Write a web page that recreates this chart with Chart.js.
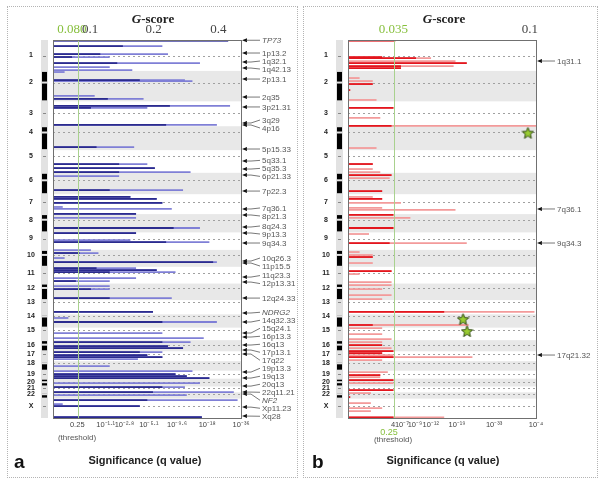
<!DOCTYPE html>
<html>
<head>
<meta charset="utf-8">
<script src="https://cdn.jsdelivr.net/npm/chart.js@4.4.1/dist/chart.umd.min.js"></script>
<style>
body { margin: 0; width: 604px; height: 488px; background: #fff; position: relative; overflow: hidden; font-family: "Liberation Sans", Arial, sans-serif; }
.panel { position: absolute; top: 6px; height: 472px; border: 1px dotted #b4b4b4; box-sizing: border-box; }
canvas { position: absolute; top: 0; }
.txt { position: absolute; white-space: nowrap; line-height: 1; transform: translateX(-50%); }
.gtitle { font: bold 13px "Liberation Serif", "DejaVu Serif", serif; color: #222; top: 11px; }
.sig { font: bold 11px "Liberation Sans", Arial, sans-serif; color: #222; top: 454px; }
.tag { font: bold 19px "Liberation Sans", Arial, sans-serif; color: #111; top: 451px; transform: none; }
.thr { font: 8px "Liberation Sans", Arial, sans-serif; color: #555; }
</style>
</head>
<body>
<div class="panel" style="left:7px;width:291px"></div>
<div class="panel" style="left:303px;width:295px"></div>
<canvas id="leftChart" width="300" height="488" style="left:0"></canvas>
<canvas id="rightChart" width="304" height="488" style="left:300px"></canvas>

<div class="txt gtitle" style="left:153px"><i>G</i>-score</div>
<div class="txt gtitle" style="left:444px"><i>G</i>-score</div>
<div class="txt sig" style="left:145px">Significance (q value)</div>
<div class="txt sig" style="left:443px">Significance (q value)</div>
<div class="txt tag" style="left:14px">a</div>
<div class="txt tag" style="left:312px">b</div>
<div class="txt thr" style="left:77px;top:433px">(threshold)</div>
<div class="txt thr" style="left:389px;top:427px;color:#86bf3c;font-size:9px">0.25</div>
<div class="txt thr" style="left:393px;top:435px">(threshold)</div>

<script>
// genome layout (Mb)
const chromosomes = ['1','2','3','4','5','6','7','8','9','10','11','12','13','14','15','16','17','18','19','20','21','22','X'];
const chromSizes = [247,243,199,191,181,171,159,146,140,135,134,132,114,106,100,89,79,76,64,62,47,50,155];
const centromeres = [124,93,91,50,48,60,59,45,49,40,53,35,17,17,19,36,24,17,26,28,13,15,60];

// panel a: position (cumulative Mb), bar length and dark core length (fraction of axis)
const leftPos = [4,48,112,136,184,216,240,256,320,328,
  447,471,527,543,679,855,991,1023,1055,1087,
  1199,1254,1270,1302,1334,1350,1390,1422,1502,1542,
  1598,1614,1678,1702,1742,1774,1822,1838,1854,1902,
  1926,1966,1990,2062,2173,2221,2253,2341,2381,2413,
  2445,2461,2493,2517,2533,2549,2605,2645,2669,2685,
  2701,2741,2773,2813,2837,2877,2909,2925,3013];
const leftLen = [0.93,0.58,0.61,0.30,0.78,0.30,0.42,0.06,0.70,0.74,
  0.22,0.48,0.94,0.50,0.87,0.43,0.50,0.54,0.73,0.35,
  0.69,0.41,0.55,0.58,0.05,0.63,0.44,0.44,0.78,0.44,
  0.41,0.83,0.20,0.24,0.06,0.87,0.44,0.55,0.65,0.44,
  0.30,0.30,0.30,0.63,0.53,0.08,0.87,0.58,0.80,0.73,
  0.61,0.69,0.58,0.50,0.58,0.45,0.30,0.74,0.65,0.71,
  0.83,0.78,0.70,0.96,0.71,0.98,0.05,0.46,0.79];
const leftCore = [0.93,0.37,0.25,0.10,0.34,0,0,0,0.46,0,
  0,0.29,0.62,0.20,0.60,0.23,0.35,0.54,0.35,0,
  0.30,0.41,0.55,0.58,0,0,0.44,0,0.64,0.44,
  0,0.60,0,0.14,0,0.85,0.23,0.55,0.30,0,
  0.12,0,0.20,0.30,0.53,0,0.58,0,0,0.58,
  0.61,0.69,0.46,0.50,0.58,0,0,0,0.65,0.71,
  0.83,0,0.58,0.53,0,0.50,0,0.46,0.79];

// panel b
const rightPos = [4,136,144,168,184,208,224,304,328,352,
  400,479,543,623,687,863,991,1031,1055,1079,
  1103,1207,1254,1270,1302,1342,1358,1398,1422,1502,
  1550,1622,1694,1718,1734,1782,1846,1870,1934,1958,
  1990,2038,2070,2173,2277,2301,2349,2389,2413,2437,
  2461,2485,2501,2517,2533,2557,2653,2677,2693,2717,
  2741,2797,2821,2853,2901,2941,2965,3016];
const rightLen = [0.25,0.18,0.44,0.57,0.63,0.56,0.28,0.06,0.13,0.13,
  0.01,0.15,0.24,0.17,1.0,0.15,0.13,0.13,0.17,0.23,
  0.22,0.18,0.13,0.18,0.28,0.18,0.57,0.24,0.33,0.24,
  0.11,0.63,0.06,0.13,0.13,0.13,0.23,0.06,0.23,0.23,
  0.18,0.23,0.18,0.99,0.64,0.18,0.18,0.23,0.18,0.18,
  0.23,0.24,0.18,0.24,0.66,0.18,0.21,0.17,0.17,0.24,
  0.24,0.24,0.12,0.01,0.12,0.18,0.12,0.51];
const rightCore = [0.25,0.18,0.36,0,0.63,0.28,0.28,0,0,0.13,
  0.01,0,0.24,0,0.23,0,0.13,0,0,0.23,
  0,0.18,0,0.18,0,0,0,0.24,0,0.24,
  0,0.22,0,0,0.13,0,0.23,0,0,0,
  0,0,0,0.51,0.13,0,0,0,0,0.18,
  0,0.24,0.18,0,0.24,0,0,0.17,0,0.24,
  0,0.24,0,0.01,0,0,0,0.24];
const starPos = [744,2232,2328];
const starLen = [0.957,0.612,0.633];

// peak labels
const leftPeaks = ['TP73','1p13.2','1q32.1','1q42.13','2p13.1','2q35','3p21.31','3q29','4p16','5p15.33',
  '5q33.1','5q35.3','6p21.33','7p22.3','7q36.1','8p21.3','8q24.3','9p13.3','9q34.3','10q26.3',
  '11p15.5','11q23.3','12p13.31','12q24.33','NDRG2','14q32.33','15q24.1','16p13.3','16q13','17p13.1',
  '17q22','19p13.3','19q13','20q13','22q11.21','NF2','Xp11.23','Xq28'];
const leftPeakPos = [2,104,176,224,312,456,535,663,679,871,
  967,1031,1079,1207,1350,1398,1494,1542,1622,1766,
  1782,1894,1934,2062,2181,2253,2341,2373,2437,2477,
  2509,2653,2701,2765,2813,2829,2933,3005];
const rightPeaks = ['1q31.1','7q36.1','9q34.3','17q21.32'];
const rightPeakPos = [168,1350,1622,2517];

// axis labels
const gLabelsLeft = ['0.080','0.1','0.2','0.4'];
const gAtLeft = [0.10,0.197,0.535,0.88];
const qLabelsLeft = ['0.25','10⁻¹·¹','10⁻²·⁸','10⁻⁵·¹','10⁻⁹·⁶','10⁻¹⁸','10⁻³⁶'];
const qAtLeft = [0.129,0.28,0.38,0.51,0.66,0.82,1.0];
const gLabelsRight = ['0.035','0.1'];
const gAtRight = [0.241,0.968];
const qLabelsRight = ['4','10⁻⁷','10⁻⁹','10⁻¹²','10⁻¹⁹','10⁻³³','10⁻⁴'];
const qAtRight = [0.24,0.287,0.356,0.44,0.58,0.777,1.0];

const genomeTotal = chromSizes.reduce((a, b) => a + b, 0);

function makeStar() {
    const c = document.createElement('canvas');
    c.width = 13; c.height = 13;
    const g = c.getContext('2d');
    g.beginPath();
    for (let i = 0; i < 10; i++) {
        const r = i % 2 === 0 ? 6 : 2.6;
        const a = -Math.PI / 2 + i * Math.PI / 5;
        g.lineTo(6.5 + r * Math.cos(a), 6.8 + r * Math.sin(a));
    }
    g.closePath();
    g.fillStyle = '#9acd32';
    g.fill();
    g.strokeStyle = '#2f4a12';
    g.lineWidth = 1;
    g.stroke();
    return c;
}

function genomePlugin(peaks, peakPos, threshold) {
    return {
        id: 'genome',
        beforeDatasetsDraw(chart) {
            const { ctx, chartArea: a, scales: { y } } = chart;
            ctx.save();
            let start = 0;
            chromSizes.forEach((len, i) => {
                const y0 = y.getPixelForValue(start), y1 = y.getPixelForValue(start + len);
                if (i % 2 === 1) {
                    ctx.fillStyle = '#e8e8e8';
                    ctx.fillRect(a.left, y0, a.right - a.left, y1 - y0);
                }
                start += len;
            });
            start = 0;
            ctx.strokeStyle = '#a0a0a0';
            ctx.setLineDash([2, 3]);
            ctx.lineWidth = 1;
            chromSizes.forEach((len, i) => {
                const yc = Math.round(y.getPixelForValue(start + centromeres[i])) + 0.5;
                ctx.beginPath();
                ctx.moveTo(a.left, yc);
                ctx.lineTo(a.right, yc);
                ctx.stroke();
                start += len;
            });
            ctx.restore();
        },
        afterDatasetsDraw(chart) {
            const { ctx, chartArea: a, scales: { x } } = chart;
            ctx.save();
            const tx = Math.round(x.getPixelForValue(threshold)) + 0.5;
            ctx.strokeStyle = '#a9d18e';
            ctx.lineWidth = 1;
            ctx.beginPath();
            ctx.moveTo(tx, a.top);
            ctx.lineTo(tx, a.bottom);
            ctx.stroke();
            ctx.strokeStyle = '#707070';
            ctx.strokeRect(Math.round(a.left) + 0.5, Math.round(a.top) + 0.5, Math.round(a.right - a.left), Math.round(a.bottom - a.top));
            ctx.restore();
        },
        afterDraw(chart) {
            const { ctx, chartArea: a, scales: { y } } = chart;
            ctx.save();
            // ideogram
            const ix = a.left - 11;
            ctx.fillStyle = '#e2e2e2';
            ctx.fillRect(ix - 1, a.top, 7, a.bottom - a.top);
            let start = 0;
            ctx.font = 'bold 7px "Liberation Sans", Arial, sans-serif';
            ctx.textAlign = 'center';
            ctx.textBaseline = 'middle';
            chromSizes.forEach((len, i) => {
                const y0 = y.getPixelForValue(start), y1 = y.getPixelForValue(start + len);
                const yc = y.getPixelForValue(start + centromeres[i]);
                if (i % 2 === 1) {
                    ctx.fillStyle = '#000';
                    ctx.fillRect(ix, y0 + 1, 5, yc - y0 - 2);
                    ctx.fillRect(ix, yc + 1, 5, y1 - yc - 2);
                } else {
                    ctx.fillStyle = '#888';
                    ctx.fillRect(ix + 1, Math.round(yc), 3, 1);
                }
                ctx.fillStyle = '#222';
                ctx.fillText(chromosomes[i], a.left - 22, yc);
                start += len;
            });
            // peak labels with arrows
            const ay = peakPos.map(p => y.getPixelForValue(p));
            const ly = ay.slice();
            const gap = 8;
            for (let it = 0; it < 200; it++) {
                for (let i = 1; i < ly.length; i++) {
                    const d = ly[i] - ly[i - 1];
                    if (d < gap) {
                        const s = (gap - d) / 2;
                        ly[i - 1] -= s;
                        ly[i] += s;
                    }
                }
            }
            const lx = a.right + 21;
            ctx.textAlign = 'left';
            peaks.forEach((name, i) => {
                ctx.fillStyle = '#111';
                ctx.beginPath();
                ctx.moveTo(a.right + 1, ay[i]);
                ctx.lineTo(a.right + 6, ay[i] - 2);
                ctx.lineTo(a.right + 6, ay[i] + 2);
                ctx.closePath();
                ctx.fill();
                ctx.strokeStyle = '#555';
                ctx.lineWidth = 0.8;
                ctx.beginPath();
                ctx.moveTo(a.right + 5, ay[i]);
                ctx.lineTo(a.right + 10, ay[i]);
                ctx.lineTo(lx - 2, ly[i]);
                ctx.stroke();
                const italic = /^[A-Z]/.test(name) && !/^X[pq]/.test(name);
                ctx.font = (italic ? 'italic ' : '') + '8px "Liberation Sans", Arial, sans-serif';
                ctx.fillStyle = '#555';
                ctx.fillText(name, lx, ly[i] + 0.5);
            });
            ctx.restore();
        }
    };
}

function axisWithTicks(position, at, labels, greenIndex, fontSpec, pad, height) {
    return {
        type: 'linear',
        position: position,
        min: 0,
        max: 1,
        offset: false,
        grid: { display: false, drawTicks: false },
        border: { display: false },
        afterBuildTicks: scale => { scale.ticks = at.map(v => ({ value: v })); },
        afterFit: scale => { scale.height = height; },
        ticks: {
            autoSkip: false,
            maxRotation: 0,
            minRotation: 0,
            padding: pad,
            font: fontSpec,
            color: ctx => ctx.index === greenIndex ? '#86bf3c' : '#444',
            callback: (value, index) => labels[index]
        }
    };
}

function buildChart(id, pos, len, core, lightColor, darkColor, opts) {
    const datasets = [];
    if (opts.stars) {
        datasets.push({
            type: 'scatter',
            data: starPos.map((p, i) => ({ x: starLen[i], y: p })),
            pointStyle: makeStar(),
            xAxisID: 'x',
            yAxisID: 'y'
        });
    }
    datasets.push({
        data: pos.map((p, i) => ({ x: core[i], y: p })).filter(d => d.x > 0),
        backgroundColor: darkColor,
        barThickness: 1.1,
        grouped: false
    });
    datasets.push({
        data: pos.map((p, i) => ({ x: len[i], y: p })),
        backgroundColor: lightColor,
        barThickness: 1.1,
        grouped: false
    });
    return new Chart(document.getElementById(id), {
        type: 'bar',
        data: { datasets: datasets },
        options: {
            responsive: false,
            animation: false,
            indexAxis: 'y',
            layout: { padding: { left: opts.padLeft, right: opts.padRight, top: 0, bottom: 0 } },
            plugins: { legend: { display: false }, tooltip: { enabled: false } },
            scales: {
                y: { type: 'linear', reverse: true, offset: false, min: 0, max: genomeTotal, display: false },
                x: axisWithTicks('bottom', opts.qAt, opts.qLabels, -1,
                    { family: '"Liberation Sans", Arial, sans-serif', size: 7.5 }, 2, 70),
                x2: axisWithTicks('top', opts.gAt, opts.gLabels, 0,
                    { family: '"Liberation Serif", "DejaVu Serif", serif', size: 13 }, 3, 40)
            }
        },
        plugins: [genomePlugin(opts.peaks, opts.peakPos, opts.threshold)]
    });
}

buildChart('leftChart', leftPos, leftLen, leftCore, '#7f7fd6', '#2b2b8e', {
    padLeft: 53, padRight: 59, threshold: 0.133,
    gAt: gAtLeft, gLabels: gLabelsLeft, qAt: qAtLeft, qLabels: qLabelsLeft,
    peaks: leftPeaks, peakPos: leftPeakPos, stars: false
});
buildChart('rightChart', rightPos, rightLen, rightCore, '#f39a9a', '#e3161e', {
    padLeft: 48, padRight: 68, threshold: 0.245,
    gAt: gAtRight, gLabels: gLabelsRight, qAt: qAtRight, qLabels: qLabelsRight,
    peaks: rightPeaks, peakPos: rightPeakPos, stars: true
});
</script>
</body>
</html>
